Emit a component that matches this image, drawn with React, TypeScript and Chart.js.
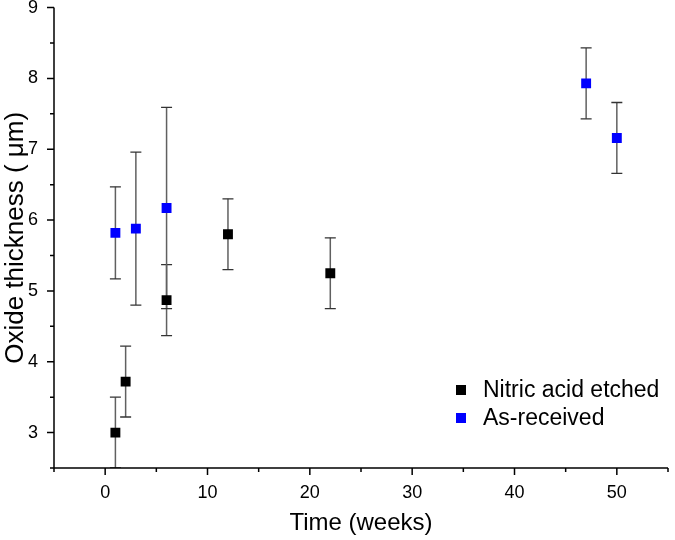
import React, { useEffect, useRef } from "react";
import { Chart, registerables } from "chart.js";

Chart.register(...registerables);

const nitricWeeks = [1, 2, 6, 12, 22];
const nitricThickness = [3.0, 3.72, 4.87, 5.8, 5.25];
const nitricError = [0.5, 0.5, 0.5, 0.5, 0.5];

const asReceivedWeeks = [1, 3, 6, 47, 50];
const asReceivedThickness = [5.82, 5.88, 6.17, 7.93, 7.16];
const asReceivedError = [0.65, 1.08, 1.42, 0.5, 0.5];

const xTickLabels = [0, 10, 20, 30, 40, 50];
const yTickLabels = [3, 4, 5, 6, 7, 8, 9];

const FONT = "'Liberation Sans', Arial, sans-serif";

const errorBarPlugin = {
  id: "errorBars",
  beforeDatasetsDraw(chart: any) {
    const { ctx, scales } = chart;
    const xs = scales.x;
    const ys = scales.y;
    ctx.save();
    ctx.beginPath();
    ctx.rect(chart.chartArea.left, chart.chartArea.top, chart.chartArea.right - chart.chartArea.left, chart.chartArea.bottom - chart.chartArea.top);
    ctx.clip();
    chart.data.datasets.forEach((ds: any) => {
      const errs: number[] = ds.errorBars || [];
      ds.data.forEach((p: any, i: number) => {
        const e = errs[i];
        if (e == null) return;
        const px = xs.getPixelForValue(p.x);
        const top = ys.getPixelForValue(p.y + e);
        const bot = ys.getPixelForValue(p.y - e);
        ctx.strokeStyle = "#606060";
        ctx.lineWidth = 1.5;
        ctx.beginPath();
        ctx.moveTo(px, top);
        ctx.lineTo(px, bot);
        ctx.stroke();
        ctx.strokeStyle = "#333333";
        ctx.lineWidth = 1.3;
        ctx.beginPath();
        ctx.moveTo(px - 5.5, top);
        ctx.lineTo(px + 5.5, top);
        ctx.moveTo(px - 5.5, bot);
        ctx.lineTo(px + 5.5, bot);
        ctx.stroke();
      });
    });
    ctx.restore();
  },
};

const axesPlugin = {
  id: "axesTicks",
  afterDraw(chart: any) {
    const { ctx, chartArea, scales } = chart;
    const xs = scales.x;
    const ys = scales.y;
    ctx.save();
    ctx.strokeStyle = "#000";
    ctx.lineWidth = 1.5;
    ctx.beginPath();
    ctx.moveTo(chartArea.left, chartArea.bottom);
    ctx.lineTo(chartArea.right, chartArea.bottom);
    ctx.moveTo(chartArea.left, chartArea.top);
    ctx.lineTo(chartArea.left, chartArea.bottom);
    ctx.stroke();
    ctx.beginPath();
    for (let v = xs.min; v <= xs.max + 1e-9; v += 5) {
      const px = xs.getPixelForValue(v);
      const major = xTickLabels.includes(v);
      ctx.moveTo(px, chartArea.bottom);
      ctx.lineTo(px, chartArea.bottom + (major ? 7 : 4));
    }
    for (let v = ys.min; v <= ys.max + 1e-9; v += 0.5) {
      const py = ys.getPixelForValue(v);
      const major = yTickLabels.includes(v);
      ctx.moveTo(chartArea.left, py);
      ctx.lineTo(chartArea.left - (major ? 7 : 4), py);
    }
    ctx.stroke();

    // legend
    const lx = chartArea.right - 207;
    const tx = chartArea.right - 185;
    let ly = chartArea.bottom - 78;
    ctx.font = `23px ${FONT}`;
    ctx.textBaseline = "middle";
    ctx.textAlign = "left";
    chart.data.datasets.forEach((ds: any) => {
      ctx.fillStyle = ds.backgroundColor;
      ctx.fillRect(lx - 5, ly - 5, 10, 10);
      ctx.fillStyle = "#000";
      ctx.fillText(ds.label, tx, ly + 1);
      ly += 28;
    });
    ctx.restore();
  },
};

export default function App() {
  const ref = useRef<HTMLCanvasElement | null>(null);
  useEffect(() => {
    if (!ref.current) return;
    const chart = new Chart(ref.current, {
      type: "scatter",
      data: {
        datasets: [
          {
            label: "Nitric acid etched",
            data: nitricWeeks.map((x, i) => ({ x, y: nitricThickness[i] })),
            errorBars: nitricError,
            backgroundColor: "#000000",
            borderWidth: 0,
            pointStyle: "rect",
            pointRadius: 7,
          } as any,
          {
            label: "As-received",
            data: asReceivedWeeks.map((x, i) => ({ x, y: asReceivedThickness[i] })),
            errorBars: asReceivedError,
            backgroundColor: "#0000ff",
            borderWidth: 0,
            pointStyle: "rect",
            pointRadius: 7,
          } as any,
        ],
      },
      options: {
        responsive: false,
        animation: false,
        devicePixelRatio: 1,
        layout: { padding: { top: 7.6, right: 0, left: 0, bottom: 0 } },
        plugins: {
          legend: { display: false },
          tooltip: { enabled: false },
        },
        scales: {
          x: {
            type: "linear",
            min: -5,
            max: 55,
            grid: { display: false, drawTicks: false },
            border: { display: false },
            ticks: {
              stepSize: 5,
              autoSkip: false,
              maxRotation: 0,
              padding: 14,
              color: "#000",
              font: { family: FONT, size: 18 },
              callback: (v: any) => (xTickLabels.includes(v) ? String(v) : ""),
            },
            title: {
              display: true,
              text: "Time (weeks)",
              color: "#000",
              font: { family: FONT, size: 24 },
              padding: { top: 0, bottom: 2 },
            },
            afterFit: (s: any) => {
              s.height = 72;
              s.paddingLeft = 0;
              s.paddingRight = 0;
            },
          },
          y: {
            type: "linear",
            min: 2.5,
            max: 9,
            grid: { display: false, drawTicks: false },
            border: { display: false },
            ticks: {
              stepSize: 0.5,
              autoSkip: false,
              padding: 16,
              color: "#000",
              font: { family: FONT, size: 18 },
              callback: (v: any) => (yTickLabels.includes(v) ? String(v) : ""),
            },
            title: {
              display: true,
              text: "Oxide thickness ( μm)",
              color: "#000",
              font: { family: FONT, size: 26 },
              padding: { top: 0, bottom: 0 },
            },
            afterFit: (s: any) => {
              s.width = 54;
              s.paddingTop = 0;
              s.paddingBottom = 0;
            },
          },
        },
      },
      plugins: [errorBarPlugin, axesPlugin],
    } as any);
    return () => chart.destroy();
  }, []);
  return (
    <div style={{ position: "fixed", left: 0, top: 0, width: 675, height: 540, background: "#fff" }}>
      <canvas ref={ref} width={675} height={540} style={{ display: "block" }} />
    </div>
  );
}
